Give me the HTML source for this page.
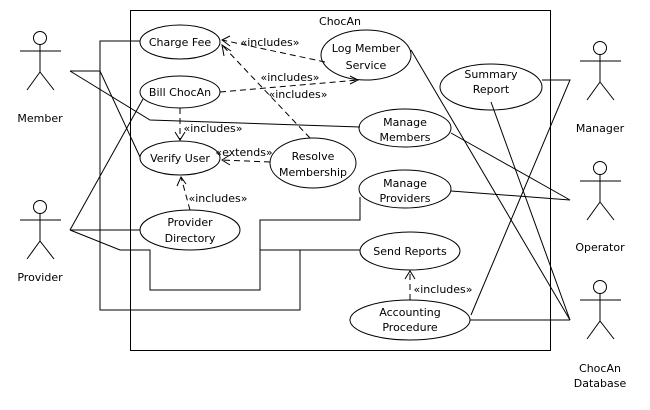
<!DOCTYPE html>
<html><head><meta charset="utf-8"><style>
html,body{margin:0;padding:0;background:#fff;}
svg{display:block;}
text{font-family:"DejaVu Sans","Liberation Sans",sans-serif;font-size:11px;fill:#000;}
</style></head><body>
<svg width="650" height="410" viewBox="0 0 650 410" xmlns="http://www.w3.org/2000/svg">
<g fill="none" stroke="#000" stroke-width="1">
<rect x="130.5" y="10.5" width="420" height="340"/>
<g id="a1"><circle cx="40" cy="38" r="6.5"/><line x1="20" y1="51" x2="61" y2="51"/><line x1="40" y1="44.5" x2="40" y2="72"/><line x1="40" y1="72" x2="27" y2="90"/><line x1="40" y1="72" x2="54" y2="90"/></g>
<use href="#a1" transform="translate(0,169)"/>
<use href="#a1" transform="translate(560,10)"/>
<use href="#a1" transform="translate(560,130)"/>
<use href="#a1" transform="translate(560,249)"/>
<ellipse cx="180" cy="42" rx="40" ry="17" fill="#fff"/>
<ellipse cx="180" cy="92" rx="40" ry="16" fill="#fff"/>
<ellipse cx="180" cy="158" rx="40" ry="17" fill="#fff"/>
<ellipse cx="366" cy="55" rx="45" ry="25" fill="#fff"/>
<ellipse cx="313" cy="163" rx="43" ry="25" fill="#fff"/>
<ellipse cx="491" cy="87" rx="51" ry="23" fill="#fff"/>
<ellipse cx="405" cy="128" rx="46" ry="19" fill="#fff"/>
<ellipse cx="405" cy="189" rx="46" ry="19" fill="#fff"/>
<ellipse cx="190" cy="230" rx="50" ry="20" fill="#fff"/>
<ellipse cx="410" cy="251" rx="50" ry="19" fill="#fff"/>
<ellipse cx="410" cy="320" rx="60" ry="20" fill="#fff"/>
<polyline points="140,41 100,41 100,310 300,310 300,250 360,250"/>
<polyline points="70,71 100,71 140,157"/>
<polyline points="70,71 150,120 360,127"/>
<line x1="143" y1="99" x2="70" y2="230"/>
<line x1="70" y1="230" x2="140" y2="230"/>
<polyline points="70,230 120,250 150,250 150,290 260,290 260,220 360,220 360,197"/>
<line x1="260" y1="250" x2="300" y2="250"/>
<line x1="411" y1="50" x2="570" y2="320"/>
<polyline points="542,80 570,80 471,315"/>
<line x1="491" y1="102" x2="570" y2="320"/>
<line x1="451" y1="133" x2="570" y2="200"/>
<line x1="451" y1="191" x2="570" y2="200"/>
<line x1="470" y1="320" x2="570" y2="320"/>
<g stroke-dasharray="6,4">
<line x1="325" y1="62" x2="222" y2="40"/>
<line x1="220" y1="92" x2="358" y2="80"/>
<line x1="310" y1="138" x2="222" y2="45"/>
<line x1="180" y1="108" x2="180" y2="140"/>
<line x1="270" y1="162" x2="222" y2="160"/>
<line x1="190" y1="210" x2="181" y2="177"/>
<line x1="410" y1="300" x2="410" y2="271"/>
</g>
<polyline points="230,36 222,40 230,46"/>
<polyline points="350,76 358,80 350,84"/>
<polyline points="224,56 222,45 231,51"/>
<polyline points="175,132 180,140 185,132"/>
<polyline points="230,155 222,160 230,165"/>
<polyline points="177,186 181,177 186,184"/>
<polyline points="405,279 410,271 415,279"/>
</g>
<g text-anchor="middle">
<text x="340" y="25">ChocAn</text>
<text x="180" y="46">Charge Fee</text>
<text x="180" y="96">Bill ChocAn</text>
<text x="180" y="162">Verify User</text>
<text x="366" y="52">Log Member</text>
<text x="366" y="69">Service</text>
<text x="313" y="160">Resolve</text>
<text x="313" y="176">Membership</text>
<text x="491" y="78">Summary</text>
<text x="491" y="93">Report</text>
<text x="405" y="126">Manage</text>
<text x="405" y="141">Members</text>
<text x="405" y="187">Manage</text>
<text x="405" y="202">Providers</text>
<text x="190" y="226">Provider</text>
<text x="190" y="242">Directory</text>
<text x="410" y="255">Send Reports</text>
<text x="410" y="316">Accounting</text>
<text x="410" y="331">Procedure</text>
<text x="40" y="122">Member</text>
<text x="40" y="281">Provider</text>
<text x="600" y="132">Manager</text>
<text x="600" y="251">Operator</text>
<text x="600" y="372">ChocAn</text>
<text x="600" y="387">Database</text>
<text x="270" y="46">«includes»</text>
<text x="290" y="81">«includes»</text>
<text x="298" y="98">«includes»</text>
<text x="213" y="132">«includes»</text>
<text x="244" y="156">«extends»</text>
<text x="218" y="202">«includes»</text>
<text x="443" y="293">«includes»</text>
</g>
</svg>
</body></html>
